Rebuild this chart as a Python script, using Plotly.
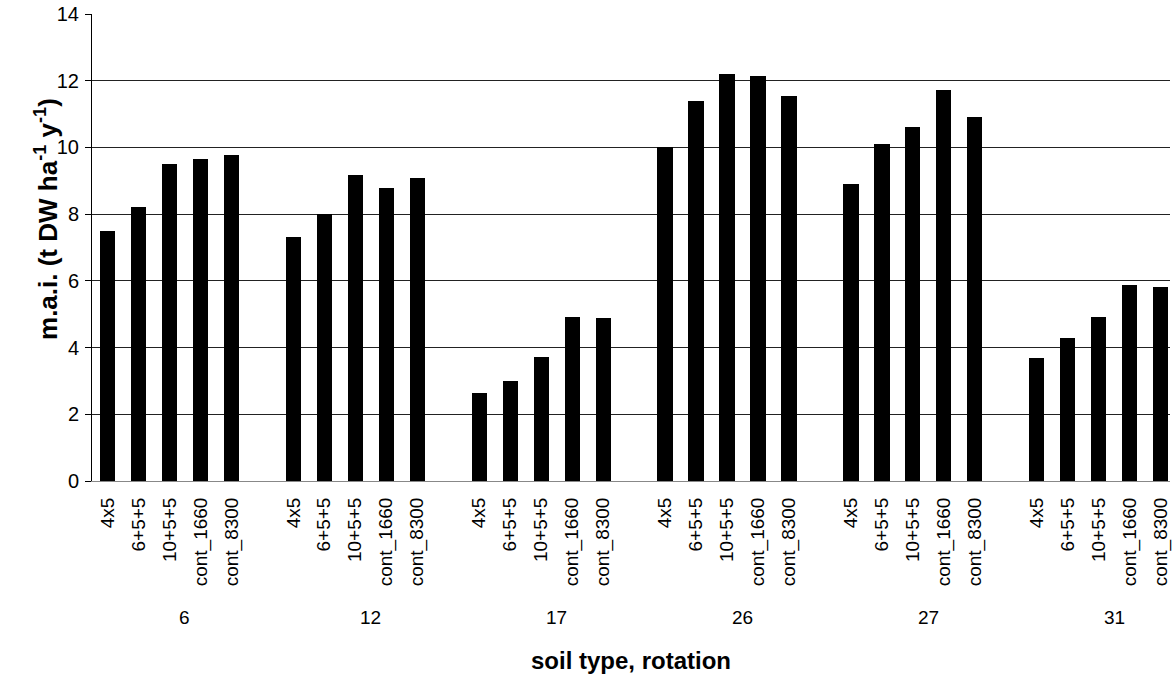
import plotly.graph_objects as go

# Soil types (outer category) and rotation schemes (inner category)
soil_types = ["6", "12", "17", "26", "27", "31"]
rotations = ["4x5", "6+5+5", "10+5+5", "cont_1660", "cont_8300"]

# Mean annual increment, t DW ha-1 y-1, per soil type in rotation order
mai_soil_6 = [7.50, 8.22, 9.49, 9.66, 9.77]
mai_soil_12 = [7.32, 7.99, 9.16, 8.77, 9.09]
mai_soil_17 = [2.63, 3.00, 3.73, 4.91, 4.88]
mai_soil_26 = [10.02, 11.40, 12.19, 12.13, 11.55]
mai_soil_27 = [8.91, 10.10, 10.60, 11.73, 10.92]
mai_soil_31 = [3.68, 4.30, 4.91, 5.88, 5.81]

mai_by_soil = [mai_soil_6, mai_soil_12, mai_soil_17, mai_soil_26, mai_soil_27, mai_soil_31]

FONT = "Liberation Sans, Arial, sans-serif"
SLOTS_PER_GROUP = len(rotations) + 1  # one empty slot between soil groups

xs, ys, labels = [], [], []
for g, values in enumerate(mai_by_soil):
    for r, v in enumerate(values):
        xs.append(g * SLOTS_PER_GROUP + r)
        ys.append(v)
        labels.append(rotations[r])

fig = go.Figure(
    go.Bar(
        x=xs,
        y=ys,
        width=0.49,
        marker=dict(color="black", line=dict(width=0)),
        showlegend=False,
    )
)

# Soil type labels under each group of rotations
for g, soil in enumerate(soil_types):
    fig.add_annotation(
        x=g * SLOTS_PER_GROUP + 2.5,
        xref="x",
        y=0,
        yref="paper",
        yshift=-136,
        yanchor="middle",
        text=soil,
        showarrow=False,
        font=dict(family=FONT, size=19, color="black"),
    )

# Axis titles
fig.add_annotation(
    x=0.5, xref="paper", y=0, yref="paper",
    yshift=-179, yanchor="middle",
    text="<b>soil type, rotation</b>", showarrow=False,
    font=dict(family=FONT, size=24, color="black"),
)
fig.add_annotation(
    x=0, xref="paper", xshift=-64, y=0.56, yref="paper",
    text="<b>m.a.i. (t DW ha<sup>-1</sup> y<sup>-1</sup>)</b>",
    textangle=-90, showarrow=False,
    font=dict(family=FONT, size=26, color="black"),
)

fig.update_layout(
    width=1172,
    height=674,
    margin=dict(l=92, r=0, t=14, b=193),
    paper_bgcolor="white",
    plot_bgcolor="white",
    bargap=0,
    xaxis=dict(
        range=[-0.5, 34.3],
        tickmode="array",
        tickvals=xs,
        ticktext=labels,
        tickangle=-90,
        ticks="",
        ticklabelstandoff=8,
        ticklabeloverflow="allow",
        tickfont=dict(family=FONT, size=19, color="black"),
        showgrid=False,
        zeroline=False,
        showline=True,
        linecolor="#888888",
        linewidth=1,
    ),
    yaxis=dict(
        range=[0, 14],
        dtick=2,
        tickfont=dict(family=FONT, size=20, color="black"),
        ticks="outside",
        ticklen=6,
        tickcolor="black",
        ticklabelstandoff=2,
        showgrid=True,
        gridcolor="#222222",
        gridwidth=1,
        zeroline=False,
        showline=True,
        linecolor="black",
        linewidth=1,
    ),
)

fig.write_html("out.html")
